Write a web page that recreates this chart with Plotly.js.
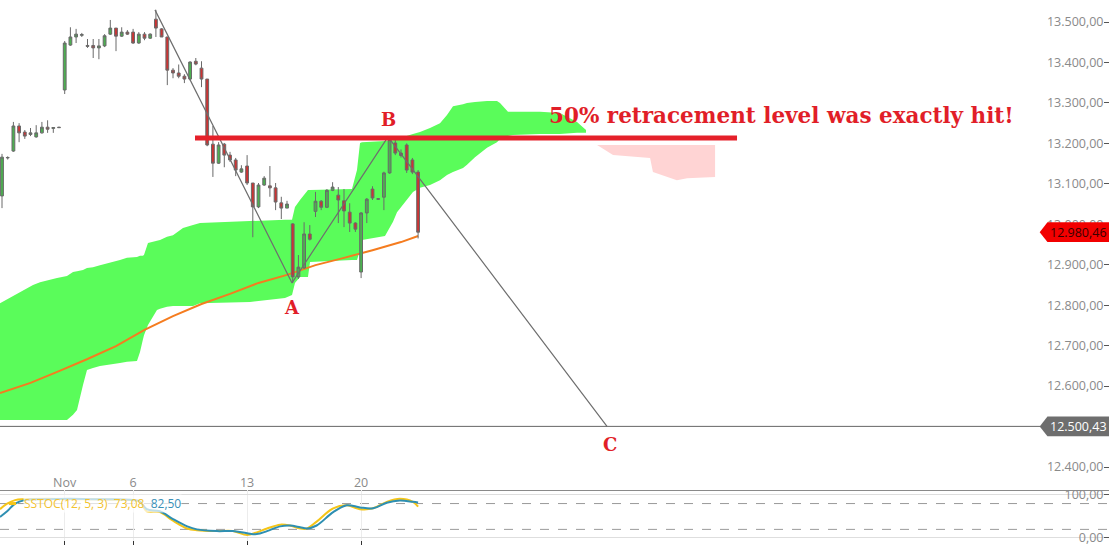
<!DOCTYPE html>
<html><head><meta charset="utf-8">
<script src="https://cdn.plot.ly/plotly-3.0.1.min.js"></script>
<style>html,body{margin:0;padding:0;background:#fff}#chart{width:1109px;height:545px}</style>
</head><body><div id="chart"></div>
<script>
// ---- candles (4-hour bars, index 0..73) ----
const candleOpen = [13070,13164,13181,13243,13228,13222,13216,13226,13240,13237,
  13240,13332,13443,13463,13467,13442,13442,13436,13441,13470,
  13485,13465,13475,13475,13448,13470,13460,13507,13483,13463,
  13381,13374,13366,13359,13403,13386,13359,13198,13151,13198,
  13171,13159,13129,13144,13102,13043,13097,13095,13090,13053,
  13040,13001,12870,12892,12976,13032,13057,13042,13084,13072,
  13058,13030,13003,12882,13028,13087,13062,13067,13127,13201,
  13176,13196,13159,13129];
const candleHigh = [13174,13168,13253,13250,13233,13238,13245,13253,13257,13240,
  13241,13453,13487,13483,13473,13458,13458,13458,13470,13505,
  13485,13487,13480,13483,13475,13475,13472,13530,13485,13463,
  13386,13395,13371,13403,13411,13403,13359,13243,13203,13201,
  13179,13164,13146,13171,13102,13102,13119,13144,13102,13068,
  13058,13003,12924,13005,12998,13080,13060,13087,13104,13092,
  13087,13052,13005,13030,13065,13094,13064,13130,13216,13208,
  13185,13200,13164,13134];
const candleLow = [13040,13160,13179,13203,13211,13218,13214,13224,13226,13226,
  13239,13322,13441,13448,13463,13436,13411,13408,13438,13468,
  13428,13463,13468,13446,13446,13455,13458,13463,13463,13344,
  13361,13361,13349,13356,13393,13339,13193,13117,13149,13141,
  13154,13119,13127,13097,12968,13040,13095,13068,13035,13013,
  13040,12855,12865,12890,12960,13018,13035,13040,13082,13003,
  12993,12981,12981,12867,13003,13060,13060,13035,13125,13171,
  13165,13127,13124,12965];
const candleClose = [13166,13165,13243,13226,13218,13226,13226,13240,13235,13239,
  13239,13448,13463,13470,13469,13440,13436,13441,13466,13485,
  13465,13475,13470,13448,13470,13460,13470,13485,13463,13381,
  13374,13366,13359,13401,13396,13359,13196,13151,13196,13171,
  13159,13134,13137,13102,13043,13097,13114,13090,13055,13040,
  13050,12870,12894,12976,12963,13057,13042,13084,13092,13060,
  13033,13003,12988,13028,13062,13065,13063,13127,13210,13176,
  13170,13134,13129,12980.46];
const candleIdx = candleOpen.map((_, i) => i);

// ---- axis ticks ----
const tickIdx = [11, 23, 43, 63];
const tickLabels = ['Nov', '6', '13', '20'];
const priceTicks = [12400, 12600, 12700, 12800, 12900, 13000, 13100, 13200, 13300, 13400, 13500];
const stochTicks = [0, 100];

// ---- moving average (orange) ----
const maIdx = [-0.35, 5, 10, 15, 20, 25, 30, 35, 40, 45, 50, 55, 60, 65, 70, 73];
const maValues = [12583, 12608, 12637, 12667, 12699, 12739, 12773, 12803, 12828, 12855, 12875, 12899, 12917, 12936, 12956, 12971];

// ---- ichimoku cloud (bullish, green) ----
const cloudIdx = [-0.35,5.44,6.67,9.65,11.4,12.46,13.16,14.21,14.91,15.96,
  17.19,20.7,21.93,23.68,24.21,24.7,24.91,25.61,27.19,27.72,
  28.95,30.0,31.75,33.51,34.74,43.51,49.65,50.88,51.4,52.28,
  53.68,54.04,61.4,62.28,62.81,63.16,67.19,68.6,69.3,72.1,
  73.33,75.09,76.84,78.07,79.12,80.88,81.58,82.98,85.09,86.84,
  87.37,88.77,89.65,94.39,97.89,100.88,102.46];
const cloudTop = [12805,12850,12857,12867,12872,12882,12884,12887,12892,12894,
  12899,12912,12917,12919,12922,12922,12924,12954,12959,12961,
  12969,12973,12991,12998,13003,13008,13011,13011,13043,13060,
  13085,13085,13087,13134,13201,13203,13206,13208,13211,13223,
  13228,13238,13250,13270,13292,13297,13300,13302,13305,13305,
  13300,13278,13278,13278,13275,13253,13233];
const cloudBottom = [12516,12516,12516,12516,12516,12529,12541,12603,12640,12645,
  12650,12657,12660,12662,12684,12714,12726,12751,12788,12791,
  12796,12798,12798,12798,12805,12808,12818,12825,12855,12870,
  12870,12907,12912,12912,12936,12961,12971,13006,13030,13080,
  13090,13097,13109,13122,13129,13139,13147,13166,13189,13203,
  13211,13218,13221,13223,13223,13226,13226];

// ---- bearish cloud (pink) ----
const bearIdx = [104.4, 107.2, 113.7, 114.2, 118.4, 120.2, 125.1];
const bearTop = [13196, 13196, 13196, 13196, 13196, 13196, 13196];
const bearBottom = [13196, 13171, 13164, 13129, 13109, 13114, 13117];

// ---- ABC wave ----
const waveIdx = [26.84, 50.88, 67.72, 106.14];
const waveValues = [13530, 12855, 13216, 12500.43];
const waveLabels = ['', 'A', 'B', 'C'];

// ---- retracement level ----
const retraceIdx = [33.86, 128.95];
const retraceLevel = 13213;
const retraceText = '50% retracement level was exactly hit!';

const lastPrice = 12980.46;
const targetPrice = 12500.43;

// ---- slow stochastic ----
const stochIdx = [-0.35,0.9,2.3,4,8,12,16,20,23,24.2,25.4,27.7,30,32.5,34.2,37.7,40.5,43,44.7,46.5,48.8,50.5,52.3,53.5,55.2,58.1,60.5,62.8,65.1,67.5,69.8,72.1,73];
const stochK = [67,80,88,90,91,90,90,89,88,84,62,60,40,22,18,16,16,7,13,22,31,29,22,22,38,69,76,67,69,84,91,84,73.08];
const stochD = [49,62,80,88,90,91,90,90,88,85,67,62,44,27,20,16,16,11,9,16,27,29,25,22,29,60,76,71,69,82,87,84,82.5];
const stochName = 'SSTOC(12, 5, 3)';
const stochLevels = [20, 80];

function fmt(v) {
  const s = v.toFixed(2).split('.');
  return s[0].replace(/\B(?=(\d{3})+(?!\d))/g, '.') + ',' + s[1];
}
function polygon(xs, top, bottom) {
  const pts = xs.map((x, i) => [x, top[i]]).concat(xs.map((x, i) => [x, bottom[i]]).reverse());
  return 'M ' + pts.map(p => p[0] + ',' + p[1]).join(' L ') + ' Z';
}
function polyline(xs, ys) {
  return 'M ' + xs.map((x, i) => x + ',' + ys[i]).join(' L ');
}

const GREEN = 'rgb(90,252,90)';
const traces = [
  { x: candleIdx, open: candleOpen, high: candleHigh, low: candleLow, close: candleClose,
    type: 'candlestick', xaxis: 'x', yaxis: 'y', whiskerwidth: 0, hoverinfo: 'skip',
    increasing: {line: {color: '#6a6a6a', width: 1}, fillcolor: '#4CAF50'},
    decreasing: {line: {color: '#6a6a6a', width: 1}, fillcolor: '#CC3333'} },
  { x: waveIdx, y: waveValues, type: 'scatter', mode: 'lines', line: {color: '#6e6e6e', width: 1.2},
    hoverinfo: 'skip', xaxis: 'x', yaxis: 'y' },
  { x: retraceIdx, y: [retraceLevel, retraceLevel], type: 'scatter', mode: 'lines',
    line: {color: '#E5202A', width: 5}, hoverinfo: 'skip', xaxis: 'x', yaxis: 'y' },
  { x: stochIdx, y: stochK, type: 'scatter', mode: 'lines', line: {color: '#F5C518', width: 2, shape: 'spline'},
    hoverinfo: 'skip', xaxis: 'x2', yaxis: 'y2' },
  { x: stochIdx, y: stochD, type: 'scatter', mode: 'lines', line: {color: '#2E8FB2', width: 2, shape: 'spline'},
    hoverinfo: 'skip', xaxis: 'x2', yaxis: 'y2' }
];

const halfBox = 24.5; // price units (~10px)
const shapes = [
  { type: 'path', xref: 'x', yref: 'y', layer: 'below', path: polygon(cloudIdx, cloudTop, cloudBottom),
    fillcolor: GREEN, line: {width: 0} },
  { type: 'path', xref: 'x', yref: 'y', layer: 'below', path: polygon(bearIdx, bearTop, bearBottom),
    fillcolor: 'rgb(255,212,212)', line: {width: 0} },
  { type: 'path', xref: 'x', yref: 'y', layer: 'below', path: polyline(maIdx, maValues),
    line: {color: '#F57C1F', width: 2} },
  { type: 'line', xref: 'paper', yref: 'y', x0: 0, x1: 0.938, y0: targetPrice, y1: targetPrice,
    line: {color: '#666', width: 1} },
  { type: 'path', xref: 'paper', yref: 'y', fillcolor: '#F20000', line: {width: 0},
    path: `M 0.9375 ${lastPrice} L 0.9445 ${lastPrice + halfBox} L 1 ${lastPrice + halfBox} L 1 ${lastPrice - halfBox} L 0.9445 ${lastPrice - halfBox} Z` },
  { type: 'path', xref: 'paper', yref: 'y', fillcolor: '#6E6E6E', line: {width: 0},
    path: `M 0.9375 ${targetPrice} L 0.9445 ${targetPrice + halfBox} L 1 ${targetPrice + halfBox} L 1 ${targetPrice - halfBox} L 0.9445 ${targetPrice - halfBox} Z` }
];
stochLevels.forEach(l => shapes.push({ type: 'line', xref: 'paper', yref: 'y2', x0: 0, x1: 1, y0: l, y1: l,
  line: {color: '#9a9a9a', width: 1, dash: 'dash'}, layer: 'below' }));
shapes.push({ type: 'line', xref: 'paper', yref: 'y2', x0: 0.008, x1: 0.0145, y0: stochLevels[1], y1: stochLevels[1],
  line: {color: '#F5C518', width: 3} });

const redFont = {family: 'DejaVu Serif', size: 18, color: '#E11E28', weight: 'bold'};
const annotations = [
  { x: 136.8, y: 13268, xref: 'x', yref: 'y', xanchor: 'center', text: retraceText, showarrow: false,
    font: {family: 'DejaVu Serif', size: 21.5, color: '#E11E28', weight: 'bold'} },
  { x: 0.9725, y: lastPrice, xref: 'paper', yref: 'y', xanchor: 'center', text: fmt(lastPrice), showarrow: false,
    font: {family: 'Open Sans', size: 12.5, color: '#3a0000'} },
  { x: 0.9725, y: targetPrice, xref: 'paper', yref: 'y', xanchor: 'center', text: fmt(targetPrice), showarrow: false,
    font: {family: 'Open Sans', size: 12.5, color: '#ffffff'} },
  { x: 0.0205, y: stochLevels[1], xref: 'paper', yref: 'y2', xanchor: 'left', showarrow: false,
    bgcolor: 'rgba(255,255,255,0.7)', borderpad: 0,
    text: `<span style="color:#F2C230">${stochName}  ${fmt(stochK[stochK.length-1])}</span>  <span style="color:#3A90B8">${fmt(stochD[stochD.length-1])}</span>`,
    font: {family: 'Open Sans', size: 12} }
];
const waveShift = [[0,0],[0,-25],[0,17],[3,-18]];
waveLabels.forEach((t, k) => { if (t) annotations.push({ x: waveIdx[k], y: waveValues[k], xref: 'x', yref: 'y',
  xanchor: 'center', text: t, showarrow: false, xshift: waveShift[k][0], yshift: waveShift[k][1], font: redFont }); });

const axFont = {family: 'Open Sans', size: 12.5, color: '#8a8a8a'};
const layout = {
  width: 1109, height: 545, autosize: false,
  margin: {l: 0, r: 0, t: 0, b: 0, pad: 0},
  paper_bgcolor: '#fff', plot_bgcolor: '#fff',
  showlegend: false, hovermode: false, separators: ',.',
  xaxis: { domain: [0, 1], range: [-0.351, 194.21], anchor: 'y', rangeslider: {visible: false},
    showgrid: false, zeroline: false, showline: true, linecolor: '#8a8a8a', linewidth: 1,
    tickmode: 'array', tickvals: tickIdx, ticktext: tickLabels, ticks: '',
    ticklabelposition: 'inside', ticklabeloverflow: 'allow',
    tickfont: {family: 'Open Sans', size: 12.5, color: '#8a8a8a'} },
  xaxis2: { matches: 'x', anchor: 'y2', rangeslider: {visible: false},
    showgrid: true, gridcolor: '#ececec', zeroline: false, showline: false,
    tickmode: 'array', tickvals: tickIdx, ticks: 'inside', ticklen: 4, tickcolor: '#333',
    showticklabels: false },
  yaxis: { domain: [0.101, 1], range: [12343.3, 13554.4], side: 'right', anchor: 'x',
    tickmode: 'array', tickvals: priceTicks, tickformat: ',.2f', ticks: 'inside', ticklen: 5, tickcolor: '#555',
    ticklabelposition: 'inside', ticklabeloverflow: 'allow', showgrid: false, zeroline: false,
    tickfont: axFont },
  yaxis2: { domain: [0, 0.101], range: [-16.3, 111.6], side: 'right', anchor: 'x2',
    tickmode: 'array', tickvals: stochTicks, tickformat: ',.2f', ticks: 'inside', ticklen: 5, tickcolor: '#555',
    ticklabelposition: 'inside', ticklabeloverflow: 'allow', showgrid: true, gridcolor: '#dedede',
    zeroline: false, tickfont: axFont },
  shapes: shapes,
  annotations: annotations
};
Plotly.newPlot('chart', traces, layout, {displayModeBar: false, staticPlot: true});
</script></body></html>
